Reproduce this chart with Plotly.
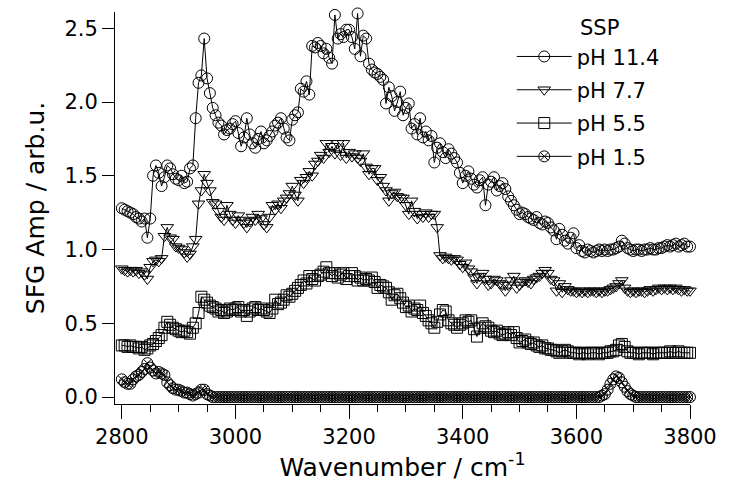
import plotly.graph_objects as go

# Wavenumber grid (cm^-1), 5 cm^-1 sampling
wavenumber = list(range(2800, 3801, 5))

ph_11_4 = [
    1.28, 1.27, 1.26, 1.25, 1.24, 1.22, 1.21, 1.19, 1.21, 1.08,  # 2800
    1.21, 1.50, 1.57, 1.52, 1.43, 1.49, 1.57, 1.55, 1.51, 1.48,  # 2850
    1.47, 1.50, 1.45, 1.46, 1.55, 1.57, 1.89, 2.13, 2.18, 2.43,  # 2900
    2.16, 2.06, 1.96, 1.91, 1.86, 1.84, 1.78, 1.81, 1.82, 1.85,  # 2950
    1.87, 1.79, 1.70, 1.76, 1.89, 1.78, 1.72, 1.69, 1.75, 1.80,  # 3000
    1.72, 1.74, 1.77, 1.80, 1.84, 1.86, 1.89, 1.82, 1.76, 1.74,  # 3050
    1.88, 1.91, 1.93, 2.09, 2.07, 2.14, 2.05, 2.38, 2.37, 2.40,  # 3100
    2.38, 2.33, 2.36, 2.30, 2.26, 2.59, 2.43, 2.46, 2.44, 2.49,  # 3150
    2.49, 2.44, 2.36, 2.60, 2.31, 2.45, 2.43, 2.26, 2.22, 2.20,  # 3200
    2.19, 2.17, 2.15, 1.99, 2.10, 2.04, 1.94, 2.00, 2.07, 1.91,  # 3250
    1.96, 1.99, 1.82, 1.85, 1.78, 1.89, 1.76, 1.80, 1.74, 1.77,  # 3300
    1.59, 1.69, 1.72, 1.66, 1.62, 1.68, 1.65, 1.62, 1.59, 1.52,  # 3350
    1.45, 1.50, 1.53, 1.48, 1.44, 1.42, 1.47, 1.49, 1.30, 1.44,  # 3400
    1.46, 1.49, 1.40, 1.43, 1.45, 1.41, 1.36, 1.33, 1.30, 1.27,  # 3450
    1.24, 1.25, 1.24, 1.22, 1.21, 1.20, 1.22, 1.18, 1.17, 1.19,  # 3500
    1.18, 1.15, 1.13, 1.07, 1.14, 1.10, 1.06, 1.04, 1.08, 1.11,  # 3550
    1.01, 1.03, 0.99, 0.98, 1.00, 0.99, 0.98, 0.99, 1.00, 0.99,  # 3600
    1.00, 0.99, 1.00, 1.00, 1.01, 1.02, 1.06, 1.04, 1.01, 1.00,  # 3650
    0.99, 1.00, 1.00, 0.99, 1.00, 1.00, 1.01, 1.00, 1.00, 1.01,  # 3700
    1.01, 1.02, 1.03, 1.02, 1.03, 1.04, 1.02, 1.03, 1.04, 1.02,  # 3750
    1.02,                                                        # 3800
]

ph_7_7 = [
    0.87, 0.86, 0.85, 0.86, 0.85, 0.86, 0.84, 0.85, 0.83, 0.80,  # 2800
    0.88, 0.92, 0.93, 0.92, 0.94, 1.09, 1.15, 1.08, 1.07, 1.02,  # 2850
    1.01, 1.00, 0.98, 0.95, 0.97, 1.02, 1.07, 1.31, 1.40, 1.51,  # 2900
    1.45, 1.40, 1.32, 1.31, 1.26, 1.22, 1.20, 1.30, 1.24, 1.20,  # 2950
    1.18, 1.23, 1.20, 1.18, 1.15, 1.19, 1.22, 1.20, 1.24, 1.21,  # 3000
    1.17, 1.15, 1.22, 1.30, 1.27, 1.31, 1.28, 1.33, 1.35, 1.38,  # 3050
    1.43, 1.37, 1.33, 1.47, 1.45, 1.49, 1.53, 1.50, 1.58, 1.60,  # 3100
    1.64, 1.62, 1.72, 1.66, 1.70, 1.65, 1.72, 1.64, 1.72, 1.62,  # 3150
    1.66, 1.63, 1.65, 1.62, 1.60, 1.65, 1.56, 1.51, 1.55, 1.55,  # 3200
    1.47, 1.49, 1.43, 1.40, 1.33, 1.38, 1.39, 1.36, 1.35, 1.35,  # 3250
    1.30, 1.24, 1.33, 1.26, 1.21, 1.24, 1.22, 1.25, 1.22, 1.24,  # 3300
    1.24, 1.15, 0.96, 0.94, 0.95, 0.94, 0.93, 0.94, 0.93, 0.90,  # 3350
    0.88, 0.91, 0.87, 0.85, 0.81, 0.77, 0.82, 0.84, 0.80, 0.76,  # 3400
    0.77, 0.80, 0.79, 0.77, 0.76, 0.72, 0.76, 0.79, 0.82, 0.74,  # 3450
    0.76, 0.78, 0.79, 0.78, 0.77, 0.80, 0.81, 0.82, 0.84, 0.86,  # 3500
    0.84, 0.80, 0.79, 0.72, 0.77, 0.71, 0.75, 0.73, 0.72, 0.72,  # 3550
    0.71, 0.72, 0.71, 0.72, 0.71, 0.72, 0.72, 0.71, 0.72, 0.71,  # 3600
    0.72, 0.72, 0.73, 0.74, 0.75, 0.77, 0.79, 0.74, 0.72, 0.71,  # 3650
    0.72, 0.71, 0.72, 0.72, 0.71, 0.72, 0.73, 0.72, 0.73, 0.74,  # 3700
    0.73, 0.74, 0.73, 0.74, 0.73, 0.74, 0.73, 0.72, 0.73, 0.72,  # 3750
    0.72,                                                        # 3800
]

ph_5_5 = [
    0.35, 0.35, 0.34, 0.35, 0.34, 0.34, 0.33, 0.34, 0.32, 0.33,  # 2800
    0.35, 0.36, 0.38, 0.40, 0.42, 0.47, 0.51, 0.49, 0.47, 0.46,  # 2850
    0.45, 0.44, 0.45, 0.44, 0.43, 0.47, 0.50, 0.57, 0.68, 0.66,  # 2900
    0.64, 0.62, 0.61, 0.60, 0.58, 0.59, 0.57, 0.58, 0.60, 0.59,  # 2950
    0.60, 0.61, 0.58, 0.59, 0.55, 0.58, 0.60, 0.61, 0.59, 0.60,  # 3000
    0.59, 0.58, 0.57, 0.60, 0.66, 0.63, 0.64, 0.66, 0.69, 0.68,  # 3050
    0.70, 0.72, 0.74, 0.76, 0.79, 0.77, 0.82, 0.80, 0.79, 0.82,  # 3100
    0.83, 0.85, 0.88, 0.84, 0.82, 0.84, 0.81, 0.83, 0.84, 0.80,  # 3150
    0.82, 0.84, 0.82, 0.79, 0.81, 0.79, 0.80, 0.79, 0.81, 0.78,  # 3200
    0.74, 0.76, 0.75, 0.74, 0.71, 0.66, 0.69, 0.70, 0.67, 0.64,  # 3250
    0.61, 0.62, 0.58, 0.60, 0.59, 0.62, 0.57, 0.55, 0.52, 0.50,  # 3300
    0.47, 0.51, 0.56, 0.59, 0.58, 0.52, 0.50, 0.49, 0.47, 0.49,  # 3350
    0.50, 0.52, 0.51, 0.52, 0.46, 0.41, 0.47, 0.50, 0.48, 0.47,  # 3400
    0.45, 0.44, 0.45, 0.43, 0.42, 0.43, 0.44, 0.42, 0.44, 0.40,  # 3450
    0.37, 0.38, 0.39, 0.37, 0.36, 0.37, 0.35, 0.34, 0.35, 0.33,  # 3500
    0.33, 0.32, 0.32, 0.31, 0.30, 0.31, 0.32, 0.31, 0.30, 0.30,  # 3550
    0.30, 0.29, 0.30, 0.30, 0.29, 0.30, 0.30, 0.30, 0.29, 0.30,  # 3600
    0.30, 0.30, 0.31, 0.31, 0.32, 0.35, 0.36, 0.34, 0.31, 0.30,  # 3650
    0.30, 0.30, 0.29, 0.30, 0.30, 0.30, 0.30, 0.29, 0.30, 0.30,  # 3700
    0.30, 0.30, 0.30, 0.31, 0.30, 0.30, 0.31, 0.30, 0.30, 0.30,  # 3750
    0.30,                                                        # 3800
]

ph_1_5 = [
    0.12, 0.10, 0.09, 0.09, 0.12, 0.14, 0.15, 0.17, 0.19, 0.23,  # 2800
    0.20, 0.18, 0.16, 0.17, 0.16, 0.15, 0.10, 0.08, 0.06, 0.05,  # 2850
    0.05, 0.04, 0.03, 0.03, 0.02, 0.01, 0.02, 0.03, 0.05, 0.05,  # 2900
    0.02, 0.01, 0.00, 0.00, 0.00, 0.00, 0.00, 0.00, 0.00, 0.00,  # 2950
    0.00, 0.00, 0.00, 0.00, 0.00, 0.00, 0.00, 0.00, 0.00, 0.00,  # 3000
    0.00, 0.00, 0.00, 0.00, 0.00, 0.00, 0.00, 0.00, 0.00, 0.00,  # 3050
    0.00, 0.00, 0.00, 0.00, 0.00, 0.00, 0.00, 0.00, 0.00, 0.00,  # 3100
    0.00, 0.00, 0.00, 0.00, 0.00, 0.00, 0.00, 0.00, 0.00, 0.00,  # 3150
    0.00, 0.00, 0.00, 0.00, 0.00, 0.00, 0.00, 0.00, 0.00, 0.00,  # 3200
    0.00, 0.00, 0.00, 0.00, 0.00, 0.00, 0.00, 0.00, 0.00, 0.00,  # 3250
    0.00, 0.00, 0.00, 0.00, 0.00, 0.00, 0.00, 0.00, 0.00, 0.00,  # 3300
    0.00, 0.00, 0.00, 0.00, 0.00, 0.00, 0.00, 0.00, 0.00, 0.00,  # 3350
    0.00, 0.00, 0.00, 0.00, 0.00, 0.00, 0.00, 0.00, 0.00, 0.00,  # 3400
    0.00, 0.00, 0.00, 0.00, 0.00, 0.00, 0.00, 0.00, 0.00, 0.00,  # 3450
    0.00, 0.00, 0.00, 0.00, 0.00, 0.00, 0.00, 0.00, 0.00, 0.00,  # 3500
    0.00, 0.00, 0.00, 0.00, 0.00, 0.00, 0.00, 0.00, 0.00, 0.00,  # 3550
    0.00, 0.00, 0.00, 0.00, 0.00, 0.00, 0.00, 0.00, 0.00, 0.01,  # 3600
    0.02, 0.05, 0.09, 0.12, 0.14, 0.13, 0.10, 0.07, 0.04, 0.02,  # 3650
    0.01, 0.00, 0.00, 0.00, 0.00, 0.00, 0.00, 0.00, 0.00, 0.00,  # 3700
    0.00, 0.00, 0.00, 0.00, 0.00, 0.00, 0.00, 0.00, 0.00, 0.00,  # 3750
    0.00,                                                        # 3800
]

series_names = ["pH 11.4", "pH 7.7", "pH 5.5", "pH 1.5"]
series_values = [ph_11_4, ph_7_7, ph_5_5, ph_1_5]
series_symbols = ["circle-open", "triangle-down-open", "square-open", "circle-x-open"]
legend_title = "SSP"

FONT = "DejaVu Sans"

fig = go.Figure()
for name, vals, sym in zip(series_names, series_values, series_symbols):
    fig.add_trace(go.Scatter(
        x=wavenumber, y=vals, name=name, mode="lines+markers",
        legendgroup=name,
        line=dict(color="black", width=1),
        marker=dict(symbol=sym, size=11, color="black", line=dict(color="black", width=1)),
        cliponaxis=False,
    ))

fig.add_annotation(
    text=legend_title, xref="paper", yref="paper",
    x=0.843, y=0.96, xanchor="center", yanchor="middle",
    showarrow=False, font=dict(family=FONT, size=21, color="black"),
)

fig.update_layout(
    width=729, height=489,
    margin=dict(l=115, r=32, t=12, b=85),
    paper_bgcolor="white", plot_bgcolor="white",
    font=dict(family=FONT, size=21, color="black"),
    showlegend=True,
    legend=dict(
        x=0.69, y=0.938, xanchor="left", yanchor="top",
        bgcolor="rgba(0,0,0,0)", font=dict(size=21),
        itemwidth=55, traceorder="grouped", tracegroupgap=3,
    ),
    xaxis=dict(
        range=[2788, 3800], showgrid=False, zeroline=False,
        showline=True, linecolor="black", linewidth=1,
        ticks="outside", ticklen=14, tickwidth=1, tickcolor="black",
        tick0=2800, dtick=200,
        minor=dict(ticks="outside", ticklen=7, tickwidth=1, tickcolor="black", tick0=2800, dtick=50),
        title=dict(text="Wavenumber / cm<sup>-1</sup>", standoff=6),
    ),
    yaxis=dict(
        range=[-0.047, 2.61], showgrid=False, zeroline=False,
        showline=True, linecolor="black", linewidth=1,
        ticks="outside", ticklen=12, tickwidth=1, tickcolor="black",
        tick0=0, dtick=0.5, tickformat=".1f",
        title=dict(text="SFG Amp / arb.u.", standoff=12),
    ),
)

fig.write_html("out.html")
